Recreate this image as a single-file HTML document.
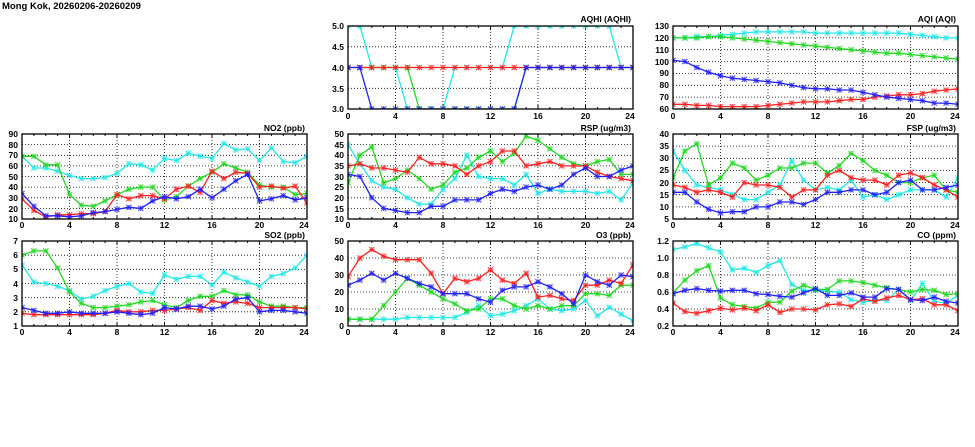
<!DOCTYPE html>
<html><head><meta charset="utf-8"><style>
html,body{margin:0;padding:0;background:#fff;width:975px;height:447px;overflow:hidden}
svg{display:block;font-family:"Liberation Sans",sans-serif;font-weight:bold}
</style></head><body>
<svg id="s" width="975" height="447" viewBox="0 0 975 447" xmlns="http://www.w3.org/2000/svg">
<text x="2" y="9" font-size="9.5">Mong Kok, 20260206-20260209</text>
<g font-size="8.5" text-anchor="end">
<text x="631" y="22">AQHI (AQHI)</text>
<text x="956" y="22">AQI (AQI)</text>
<text x="305" y="131">NO2 (ppb)</text>
<text x="631" y="131">RSP (ug/m3)</text>
<text x="956" y="131">FSP (ug/m3)</text>
<text x="305" y="238">SO2 (ppb)</text>
<text x="631" y="238">O3 (ppb)</text>
<text x="956" y="238">CO (ppm)</text>
</g>
<g id="tx" font-size="8.5"></g>
<g font-size="8.5" text-anchor="middle">
<text x="348" y="119">0</text><text x="395.5" y="119">4</text><text x="443" y="119">8</text><text x="490.5" y="119">12</text><text x="538" y="119">16</text><text x="585.5" y="119">20</text><text x="630" y="119">24</text>
<text x="673" y="119">0</text><text x="720.5" y="119">4</text><text x="768" y="119">8</text><text x="815.5" y="119">12</text><text x="863" y="119">16</text><text x="910.5" y="119">20</text><text x="955" y="119">24</text>
<text x="22" y="228">0</text><text x="69.5" y="228">4</text><text x="117" y="228">8</text><text x="164.5" y="228">12</text><text x="212" y="228">16</text><text x="259.5" y="228">20</text><text x="304" y="228">24</text>
<text x="348" y="228">0</text><text x="395.5" y="228">4</text><text x="443" y="228">8</text><text x="490.5" y="228">12</text><text x="538" y="228">16</text><text x="585.5" y="228">20</text><text x="630" y="228">24</text>
<text x="673" y="228">0</text><text x="720.5" y="228">4</text><text x="768" y="228">8</text><text x="815.5" y="228">12</text><text x="863" y="228">16</text><text x="910.5" y="228">20</text><text x="955" y="228">24</text>
<text x="22" y="335">0</text><text x="69.5" y="335">4</text><text x="117" y="335">8</text><text x="164.5" y="335">12</text><text x="212" y="335">16</text><text x="259.5" y="335">20</text><text x="304" y="335">24</text>
<text x="348" y="335">0</text><text x="395.5" y="335">4</text><text x="443" y="335">8</text><text x="490.5" y="335">12</text><text x="538" y="335">16</text><text x="585.5" y="335">20</text><text x="630" y="335">24</text>
<text x="673" y="335">0</text><text x="720.5" y="335">4</text><text x="768" y="335">8</text><text x="815.5" y="335">12</text><text x="863" y="335">16</text><text x="910.5" y="335">20</text><text x="955" y="335">24</text>
</g>
<g font-size="8.5" text-anchor="end">
<text x="344" y="29">5.0</text><text x="344" y="50">4.5</text><text x="344" y="71">4.0</text><text x="344" y="92">3.5</text><text x="344" y="112">3.0</text>
<text x="669" y="29">130</text><text x="669" y="41">120</text><text x="669" y="53">110</text><text x="669" y="65">100</text><text x="669" y="76">90</text><text x="669" y="88">80</text><text x="669" y="100">70</text><text x="669" y="112">60</text>
<text x="18" y="137">90</text><text x="18" y="148">80</text><text x="18" y="158">70</text><text x="18" y="169">60</text><text x="18" y="180">50</text><text x="18" y="190">40</text><text x="18" y="201">30</text><text x="18" y="212">20</text><text x="18" y="222">10</text>
<text x="344" y="137">50</text><text x="344" y="148">45</text><text x="344" y="158">40</text><text x="344" y="169">35</text><text x="344" y="180">30</text><text x="344" y="190">25</text><text x="344" y="201">20</text><text x="344" y="212">15</text><text x="344" y="222">10</text>
<text x="669" y="137">40</text><text x="669" y="149">35</text><text x="669" y="161">30</text><text x="669" y="173">25</text><text x="669" y="186">20</text><text x="669" y="198">15</text><text x="669" y="210">10</text><text x="669" y="222">5</text>
<text x="18" y="244">7</text><text x="18" y="258">6</text><text x="18" y="272">5</text><text x="18" y="287">4</text><text x="18" y="301">3</text><text x="18" y="315">2</text><text x="18" y="329">1</text>
<text x="344" y="244">50</text><text x="344" y="261">40</text><text x="344" y="278">30</text><text x="344" y="295">20</text><text x="344" y="312">10</text><text x="344" y="329">0</text>
<text x="669" y="244">1.2</text><text x="669" y="261">1.0</text><text x="669" y="278">0.8</text><text x="669" y="295">0.6</text><text x="669" y="312">0.4</text><text x="669" y="329">0.2</text>
</g>
<g id="plots"></g>
</svg>
<script>
var C={c:"#20e8e8",g:"#20d820",r:"#ff2020",b:"#2020ff"};
var P=[
{x:348,y:26,h:83,lo:3,hi:5,st:0.5,d:{
c:[5,5,4,4,4,3,3,3,3,4,4,4,4,4,5,5,5,5,5,5,5,5,5,4,4],
g:[4,4,4,4,4,4,3,3,3,3,3,3,3,3,3,4,4,4,4,4,4,4,4,4,4],
b:[4,4,3,3,3,3,3,3,3,3,3,3,3,3,3,4,4,4,4,4,4,4,4,4,4],
r:[4,4,4,4,4,4,4,4,4,4,4,4,4,4,4,4,4,4,4,4,4,4,4,4,4]}},
{x:673,y:26,h:83,lo:60,hi:130,st:10,d:{
c:[120,120,121,121,122,123,124,125,125,125,125,125,124,124,124,124,124,124,124,124,123,122,121,120,120],
g:[120,120,120,121,121,120,119,118,117,116,115,114,113,112,111,110,109,108,107,107,106,105,104,103,102],
b:[101,100,95,91,88,86,85,84,83,82,80,78,77,77,76,76,74,72,70,69,68,67,65,65,64],
r:[64,64,63,63,62,62,62,62,63,64,65,66,66,66,67,68,68,70,71,72,72,73,75,76,77]}},
{x:22,y:134,h:85,lo:10,hi:90,st:10,d:{
c:[69,58,58,55,51,48,48,49,53,62,61,56,67,65,72,69,67,81,75,76,65,77,64,63,69],
g:[69,69,61,61,33,23,22,27,33,38,40,40,28,31,41,48,54,62,58,54,42,40,40,33,34],
r:[29,18,12,14,14,15,15,17,33,29,32,32,29,38,41,35,55,48,54,53,40,41,39,41,25],
b:[34,22,13,13,12,13,16,17,19,21,20,27,31,29,31,38,30,38,46,52,27,29,32,28,30]}},
{x:348,y:134,h:85,lo:10,hi:50,st:5,d:{
c:[45,36,28,25,24,20,17,17,24,29,40,30,29,29,26,31,22,24,23,23,23,22,23,19,27],
g:[27,40,44,27,29,33,29,24,26,32,34,39,42,37,41,49,47,43,39,36,35,37,38,31,31],
r:[35,36,34,34,33,32,39,36,36,35,31,35,37,42,42,35,36,37,35,35,35,32,30,29,28],
b:[31,30,20,15,14,13,13,16,16,19,19,19,22,24,23,25,26,24,26,31,34,30,30,33,35]}},
{x:673,y:134,h:85,lo:5,hi:40,st:5,d:{
c:[33,25,19,18,17,15,13,13,16,19,29,21,17,18,17,21,14,15,13,15,17,17,17,14,22],
g:[22,33,36,19,22,28,26,21,23,26,26,28,28,24,27,32,29,25,23,20,20,22,23,17,16],
r:[19,18,16,17,16,14,20,19,19,18,14,17,17,23,25,22,21,21,19,23,24,22,19,17,14],
b:[16,16,12,9,7.5,8,8,10,10,12,12,11,13,16,16,17,17,15,16,20,21,17,17,18,19]}},
{x:22,y:241,h:85,lo:1,hi:7,st:1,d:{
c:[5.3,4.1,4.0,3.8,3.5,2.9,3.1,3.5,3.8,4.0,3.4,3.3,4.6,4.3,4.5,4.5,3.9,4.8,4.4,4.1,3.8,4.5,4.7,5.1,6.0],
g:[6.0,6.3,6.3,5.1,3.4,2.6,2.3,2.3,2.4,2.5,2.7,2.8,2.5,2.3,2.8,3.1,3.1,3.5,3.2,3.2,2.7,2.4,2.4,2.3,2.3],
r:[1.9,1.8,1.8,1.8,1.8,1.8,1.8,1.9,2.1,2.0,2.0,2.1,2.1,2.2,2.3,2.1,2.8,2.6,2.7,2.6,2.3,2.3,2.3,2.3,2.2],
b:[2.3,2.1,1.9,1.9,2.0,1.9,1.9,1.9,2.0,1.9,1.8,1.9,2.3,2.2,2.4,2.4,2.2,2.4,2.9,3.0,2.0,2.1,2.1,2.0,1.9]}},
{x:348,y:241,h:85,lo:0,hi:50,st:10,d:{
c:[4,4,4,4,4,5,5,5,5,5,8,12,6,7,9,12,16,10,9,10,15,6,11,7,3],
g:[4,4,4,12,20,28,24,20,16,13,9,10,16,16,12,10,12,10,12,12,19,19,18,24,24],
r:[29,40,45,41,39,39,39,31,19,28,26,28,33,27,25,31,17,18,16,15,24,24,27,25,36],
b:[24,27,31,27,31,28,25,23,19,19,19,16,14,21,23,23,26,23,19,13,30,26,24,30,29]}},
{x:673,y:241,h:85,lo:0.2,hi:1.2,st:0.2,d:{
c:[1.10,1.13,1.17,1.12,1.07,0.86,0.88,0.83,0.91,0.97,0.69,0.62,0.62,0.61,0.60,0.51,0.48,0.50,0.50,0.63,0.50,0.70,0.49,0.47,0.56],
g:[0.59,0.74,0.85,0.91,0.53,0.45,0.43,0.41,0.48,0.48,0.61,0.68,0.63,0.63,0.73,0.73,0.71,0.68,0.65,0.63,0.60,0.63,0.62,0.57,0.58],
r:[0.47,0.37,0.35,0.38,0.41,0.39,0.41,0.38,0.45,0.36,0.40,0.40,0.39,0.45,0.46,0.43,0.52,0.49,0.53,0.56,0.51,0.52,0.45,0.45,0.38],
b:[0.58,0.62,0.64,0.62,0.61,0.62,0.62,0.58,0.57,0.55,0.54,0.59,0.64,0.56,0.56,0.59,0.54,0.54,0.64,0.63,0.51,0.50,0.54,0.49,0.47]}}
];
var W=285,out="";
P.forEach(function(p){
  var X=function(i){return p.x+i*W/24},Y=function(v){return p.y+p.h*(p.hi-v)/(p.hi-p.lo)};
  var n=Math.round((p.hi-p.lo)/p.st);
  for(var k=1;k<n;k++){var yy=Y(p.lo+k*p.st).toFixed(1);out+='<line x1="'+p.x+'" x2="'+(p.x+W)+'" y1="'+yy+'" y2="'+yy+'" stroke="#000" stroke-width="0.8" stroke-dasharray="1,2"/>';}
  for(var j=4;j<24;j+=4){var xx=X(j).toFixed(1);out+='<line x1="'+xx+'" x2="'+xx+'" y1="'+p.y+'" y2="'+(p.y+p.h)+'" stroke="#000" stroke-width="0.8" stroke-dasharray="1,2"/>';}
  for(var j=0;j<=24;j++){var xx=X(j).toFixed(1);var L=(j%4==0)?4:2;out+='<line x1="'+xx+'" x2="'+xx+'" y1="'+(p.y+p.h)+'" y2="'+(p.y+p.h-L)+'" stroke="#000"/><line x1="'+xx+'" x2="'+xx+'" y1="'+p.y+'" y2="'+(p.y+L)+'" stroke="#000"/>';}
  out+='<svg x="'+p.x+'" y="'+p.y+'" width="'+W+'" height="'+p.h+'" overflow="hidden"><g transform="translate('+(-p.x)+','+(-p.y)+')">';
  ["c","g","r","b"].forEach(function(s){
    var a=p.d[s],pts=a.map(function(v,i){return X(i).toFixed(1)+","+Y(v).toFixed(1)}).join(" ");
    out+='<polyline points="'+pts+'" fill="none" stroke="'+C[s]+'" stroke-width="1.3"/>';
    a.forEach(function(v,i){var x=X(i),y=Y(v),r=2.6;
      out+='<path d="M'+(x-r)+' '+(y-r)+'L'+(x+r)+' '+(y+r)+'M'+(x-r)+' '+(y+r)+'L'+(x+r)+' '+(y-r)+'M'+(x-r)+' '+y+'L'+(x+r)+' '+y+'M'+x+' '+(y-r)+'L'+x+' '+(y+r)+'" stroke="'+C[s]+'" stroke-width="1.1" opacity="0.8"/>';});
  });
  out+='</g></svg>';
  out+='<rect x="'+p.x+'" y="'+p.y+'" width="'+W+'" height="'+p.h+'" fill="none" stroke="#000" stroke-width="1.3"/>';
});
document.getElementById("plots").innerHTML=out;
</script>
</body></html>
